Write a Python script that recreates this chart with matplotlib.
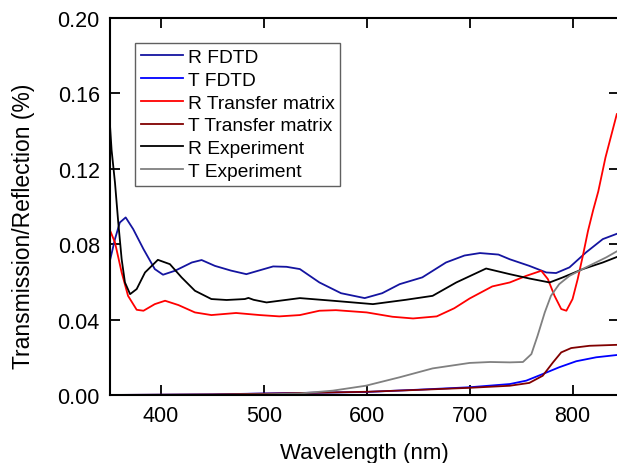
import matplotlib.pyplot as plt

plt.rcParams['font.family'] = ['Liberation Sans', 'DejaVu Sans']

# reflection, FDTD simulation
r_fdtd_wl = [350, 355.3, 360, 365.7, 373, 383, 394, 402, 413.6, 430, 439.5, 452.4, 468, 483, 495, 509,
             522, 535, 554, 575, 598, 615, 632, 654, 677, 695, 710, 728, 739, 758, 774.5, 784, 797,
             813, 829.4, 843]
r_fdtd = [0.0703, 0.0827, 0.0915, 0.0942, 0.088, 0.0774, 0.0668, 0.0638, 0.0659, 0.0703, 0.0716,
          0.0685, 0.066, 0.0641, 0.066, 0.0682, 0.068, 0.0668, 0.0597, 0.054, 0.0514, 0.054, 0.0588,
          0.0624, 0.0703, 0.074, 0.0753, 0.0745, 0.072, 0.0685, 0.065, 0.0647, 0.0677, 0.0756,
          0.0827, 0.0855]

# transmission, FDTD simulation
t_fdtd_wl = [350, 450, 500, 550, 600, 650, 700, 739, 755, 771, 787, 803.6, 823, 843]
t_fdtd = [0.0, 0.0003, 0.0008, 0.0012, 0.0016, 0.0028, 0.0041, 0.0058, 0.0076, 0.0111, 0.0147,
          0.0179, 0.020, 0.0212]

# reflection, transfer matrix
r_tm_wl = [350, 355.3, 361.8, 368, 376.4, 383, 394, 404, 417, 433, 449, 473, 496, 515, 535, 554, 570,
           600, 625, 645, 668, 685, 700, 722, 739, 755, 769.6, 776, 782.5, 789, 794, 800, 805, 810,
           815, 820, 825, 832, 843]
r_tm = [0.088, 0.0809, 0.065, 0.0526, 0.0452, 0.0447, 0.0482, 0.050, 0.0477, 0.0438, 0.0424, 0.0435,
        0.0424, 0.0417, 0.0424, 0.0447, 0.045, 0.0438, 0.0415, 0.0406, 0.0417, 0.046, 0.0512, 0.0576,
        0.0597, 0.0632, 0.0659, 0.0615, 0.0526, 0.0456, 0.0447, 0.0509, 0.0615, 0.0738, 0.087,
        0.098, 0.108, 0.126, 0.149]

# transmission, transfer matrix
t_tm_wl = [350, 450, 500, 550, 600, 650, 700, 739, 758, 771, 781, 789, 798.7, 816.5, 843]
t_tm = [0.0, 0.0003, 0.0007, 0.0012, 0.0017, 0.0027, 0.0038, 0.0049, 0.0064, 0.0102, 0.0173, 0.0226,
        0.0249, 0.0261, 0.0266]

# reflection, measured
r_exp_wl = [350, 352, 355.3, 358.5, 361.8, 365, 370, 376.4, 384.5, 397, 408.7, 420, 433, 449, 463.8,
            481.5, 485, 490, 502.6, 535, 567, 606, 638, 664, 687, 716, 739, 758, 777.7, 790.6, 810,
            829.4, 843]
r_exp = [0.147, 0.130, 0.1127, 0.0915, 0.072, 0.0597, 0.0535, 0.0562, 0.065, 0.0717, 0.0694, 0.0624,
         0.0553, 0.0509, 0.0504, 0.0509, 0.0515, 0.0505, 0.0491, 0.0514, 0.050, 0.0482, 0.0505,
         0.0526, 0.0597, 0.0671, 0.0641, 0.0618, 0.0597, 0.0624, 0.0668, 0.0703, 0.0732]

# transmission, measured
t_exp_wl = [350, 450, 500, 535, 567, 599, 632, 664, 700, 720, 739, 751.8, 760, 766, 773, 779, 787,
            797, 813, 832.7, 843]
t_exp = [0.0, 0.0001, 0.0003, 0.0008, 0.0023, 0.0049, 0.0094, 0.0141, 0.017, 0.0175, 0.0173, 0.0175,
         0.0217, 0.0314, 0.0438, 0.0526, 0.0588, 0.0632, 0.0677, 0.073, 0.0762]

fig = plt.figure(figsize=(6.17, 4.64), dpi=100)
ax = fig.add_axes([0.1775, 0.1466, 0.8255, 0.8124])

lw = 1.3
ax.plot(r_fdtd_wl, r_fdtd, color='#1414a0', lw=lw, label='R FDTD')
ax.plot(t_fdtd_wl, t_fdtd, color='#0000ff', lw=lw, label='T FDTD')
ax.plot(r_tm_wl, r_tm, color='#ff0000', lw=lw, label='R Transfer matrix')
ax.plot(t_tm_wl, t_tm, color='#800000', lw=lw, label='T Transfer matrix')
ax.plot(r_exp_wl, r_exp, color='black', lw=lw, label='R Experiment')
ax.plot(t_exp_wl, t_exp, color='#808080', lw=lw, label='T Experiment')

ax.set_xlim(350, 845)
ax.set_ylim(0, 0.20)
ax.set_xticks([400, 500, 600, 700, 800])
ax.set_yticks([0.00, 0.04, 0.08, 0.12, 0.16, 0.20])
ax.set_yticklabels(['0.00', '0.04', '0.08', '0.12', '0.16', '0.20'])
ax.tick_params(direction='in', length=7, width=1.3, top=True, right=True,
               labelsize=15.5, pad=7)
for s in ax.spines.values():
    s.set_linewidth(1.5)

ax.set_xlabel('Wavelength (nm)', fontsize=16, labelpad=12)
ax.set_ylabel('Transmission/Reflection (%)', fontsize=16.5)
ax.yaxis.set_label_coords(-0.146, 0.45)

leg = ax.legend(loc='upper left', bbox_to_anchor=(0.05, 0.934), borderaxespad=0,
                fontsize=13.8, handlelength=2.2, handletextpad=0.25, labelspacing=0.28,
                borderpad=0.3, fancybox=False, framealpha=1)
leg.get_frame().set_edgecolor('#606060')
leg.get_frame().set_linewidth(1.0)

fig.savefig('out.png', dpi=100)
